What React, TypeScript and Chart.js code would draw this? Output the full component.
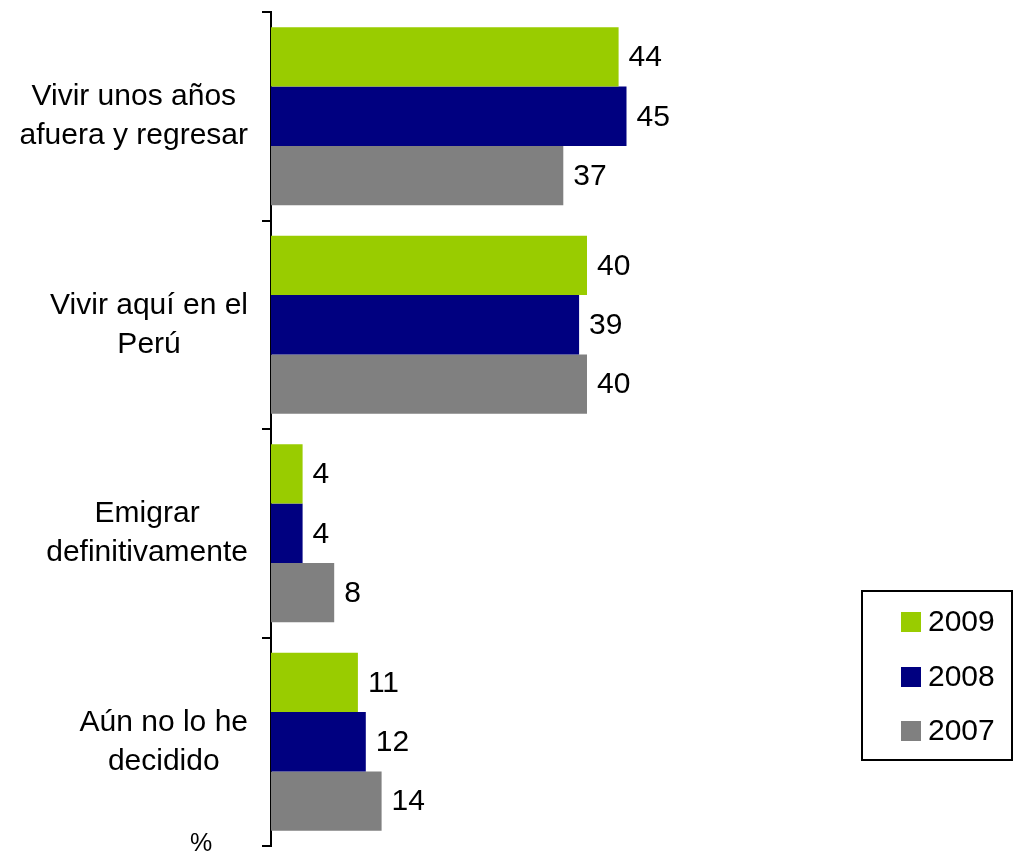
import React, { useEffect, useRef } from "react";
import { Chart, registerables } from "chart.js";

Chart.register(...registerables);

const categories: string[][] = [
  ["Vivir unos años", "afuera y regresar"],
  ["Vivir aquí en el", "Perú"],
  ["Emigrar", "definitivamente"],
  ["Aún no lo he", "decidido"],
];
const seriesNames = ["2009", "2008", "2007"];
const values2009 = [44, 40, 4, 11];
const values2008 = [45, 39, 4, 12];
const values2007 = [37, 40, 8, 14];
const seriesColors = ["#99CC00", "#000080", "#808080"];
const unitLabel = "%";

const FONT = '"Liberation Sans", Arial, sans-serif';

const overlayPlugin = {
  id: "overlay",
  afterDatasetsDraw(chart: any) {
    const ctx = chart.ctx;
    ctx.save();
    // value labels
    ctx.font = `30px ${FONT}`;
    ctx.fillStyle = "#000";
    ctx.textAlign = "left";
    ctx.textBaseline = "middle";
    chart.data.datasets.forEach((ds: any, di: number) => {
      const meta = chart.getDatasetMeta(di);
      meta.data.forEach((bar: any, i: number) => {
        ctx.fillText(String(ds.data[i]), bar.x + 10, bar.y + 1);
      });
    });
    // category labels, each block centered on itself, right edge at fixed x
    const yScale = chart.scales.y;
    const rightEdge = chart.chartArea.left - 23;
    const lineH = 39;
    categories.forEach((lines, i) => {
      const cy = yScale.getPixelForTick(i);
      let widest = 0;
      lines.forEach((l) => {
        widest = Math.max(widest, ctx.measureText(l).width);
      });
      const cx = rightEdge - widest / 2;
      ctx.textAlign = "center";
      lines.forEach((l, j) => {
        const y = cy + (j - (lines.length - 1) / 2) * lineH;
        ctx.fillText(l, cx, y);
      });
    });
    // unit label
    ctx.font = `25px ${FONT}`;
    ctx.textAlign = "center";
    ctx.fillText(unitLabel, 201, 844);
    // legend box
    ctx.lineWidth = 2;
    ctx.strokeStyle = "#000";
    ctx.strokeRect(862, 591, 150, 169);
    ctx.font = `30px ${FONT}`;
    ctx.textAlign = "left";
    const rows = [622, 677, 731];
    chart.data.datasets.forEach((ds: any, di: number) => {
      const y = rows[di];
      ctx.fillStyle = ds.backgroundColor;
      ctx.fillRect(901, y - 10, 20, 20);
      ctx.fillStyle = "#000";
      ctx.fillText(ds.label, 928, y + 1);
    });
    ctx.restore();
  },
};

export default function App() {
  const ref = useRef<HTMLCanvasElement | null>(null);
  useEffect(() => {
    if (!ref.current) return;
    const chart = new Chart(ref.current, {
      type: "bar",
      data: {
        labels: categories.map((c) => c.join(" ")),
        datasets: [values2009, values2008, values2007].map((d, i) => ({
          label: seriesNames[i],
          data: d,
          backgroundColor: seriesColors[i],
          borderWidth: 0,
          categoryPercentage: 0.854,
          barPercentage: 1,
        })),
      },
      options: {
        indexAxis: "y",
        animation: false,
        responsive: false,
        devicePixelRatio: 1,
        layout: { padding: { left: 0, top: 12, bottom: 7, right: 32 } },
        plugins: { legend: { display: false }, tooltip: { enabled: false } },
        scales: {
          x: { display: false, min: 0, max: 90 },
          y: {
            position: "left",
            afterFit: (s: any) => {
              s.width = 271;
            },
            ticks: { display: false },
            grid: {
              offset: true,
              drawOnChartArea: false,
              drawTicks: true,
              tickLength: 9,
              color: "#000",
              lineWidth: 2,
            },
            border: { display: true, color: "#000", width: 2 },
          },
        },
      },
      plugins: [overlayPlugin],
    } as any);
    return () => chart.destroy();
  }, []);
  return (
    <div style={{ position: "absolute", left: 0, top: 0, width: 1014, height: 853, background: "#fff" }}>
      <canvas ref={ref} width={1014} height={853} style={{ display: "block" }} />
    </div>
  );
}
